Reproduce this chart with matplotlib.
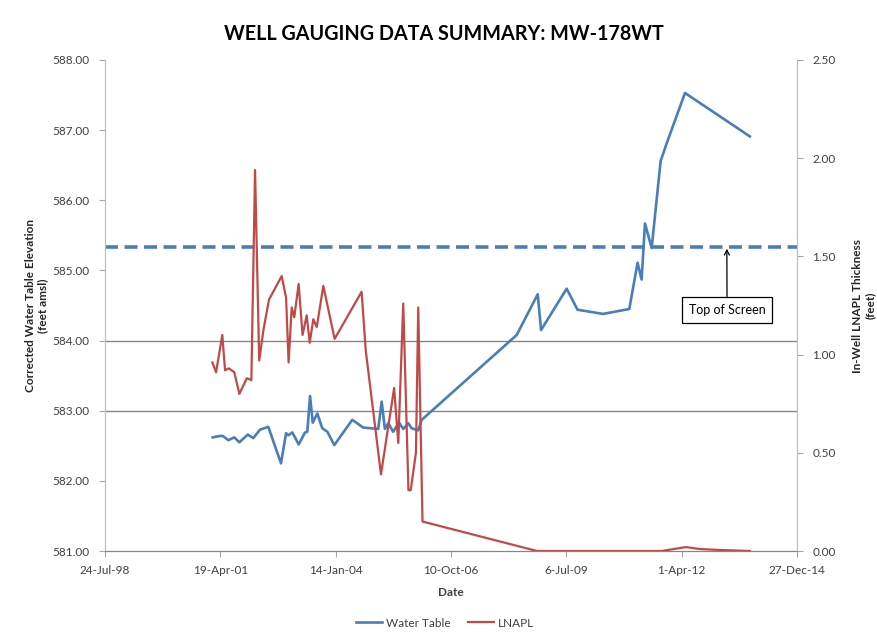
import numpy as np
import pandas as pd
import matplotlib
matplotlib.use("Agg")
import matplotlib.pyplot as plt
import matplotlib.dates as mdates

plt.rcParams["font.family"] = ["Lato", "DejaVu Sans"]

# =========================
# DATA
# =========================

wt_dates = [
    "2001-02-12", "2001-04-16", "2001-05-10", "2001-06-27", "2001-08-18", "2001-10-01",
    "2001-12-13", "2002-01-30", "2002-03-29", "2002-06-09", "2002-09-27", "2002-11-10",
    "2002-11-30", "2003-01-03", "2003-02-28", "2003-04-23", "2003-05-13", "2003-06-06",
    "2003-06-29", "2003-08-08", "2003-09-20", "2003-11-03", "2004-01-02", "2004-06-06",
    "2004-09-09", "2005-01-17", "2005-02-16", "2005-03-16", "2005-04-14", "2005-05-27",
    "2005-07-16", "2005-08-22", "2005-10-05", "2005-11-03", "2005-12-30", "2006-01-29",
    "2008-05-02", "2008-10-31", "2008-11-29", "2009-07-09", "2009-10-11", "2010-05-20",
    "2011-01-03", "2011-03-16", "2011-04-20", "2011-05-19", "2011-07-16", "2011-10-02",
    "2011-11-23", "2012-04-30", "2013-11-14",
]
wt_elev = [
    582.62, 582.64, 582.64, 582.58, 582.62, 582.55,
    582.66, 582.61, 582.73, 582.77, 582.25, 582.68,
    582.65, 582.69, 582.52, 582.69, 582.70, 583.21,
    582.83, 582.96, 582.75, 582.70, 582.51, 582.87,
    582.76, 582.74, 583.13, 582.74, 582.82, 582.70,
    582.83, 582.74, 582.82, 582.75, 582.72, 582.87,
    584.08, 584.66, 584.15, 584.74, 584.44, 584.38,
    584.45, 585.11, 584.87, 585.67, 585.32, 586.56,
    586.81, 587.53, 586.91,
]

lnapl_dates = [
    "2001-02-09", "2001-03-13", "2001-05-06", "2001-05-30", "2001-07-02", "2001-08-18",
    "2001-10-01", "2001-12-05", "2002-01-13", "2002-02-14", "2002-03-22", "2002-04-29",
    "2002-06-15", "2002-10-03", "2002-11-10", "2002-12-02", "2002-12-29", "2003-01-20",
    "2003-02-27", "2003-04-02", "2003-05-08", "2003-06-03", "2003-07-04", "2003-08-03",
    "2003-09-29", "2004-01-05", "2004-08-26", "2004-10-01", "2005-02-10", "2005-06-04",
    "2005-07-10", "2005-08-22", "2005-10-06", "2005-10-26", "2005-12-10", "2005-12-30",
    "2006-02-05", "2008-10-25", "2009-07-09", "2010-05-20", "2011-01-03", "2011-10-11",
    "2012-05-08", "2012-09-07", "2013-01-29", "2013-11-14",
]
lnapl_thk = [
    0.96, 0.91, 1.10, 0.92, 0.93, 0.91,
    0.80, 0.88, 0.87, 1.94, 0.97, 1.13,
    1.28, 1.40, 1.29, 0.96, 1.24, 1.19,
    1.36, 1.10, 1.20, 1.06, 1.18, 1.14,
    1.35, 1.08, 1.32, 1.02, 0.39, 0.83,
    0.55, 1.26, 0.31, 0.31, 0.50, 1.24,
    0.15, 0.00, 0.00, 0.00, 0.00, 0.00,
    0.02, 0.01, 0.006, 0.00,
]

top_of_screen = 585.33
ref_lines = [583.0, 584.0]
x_start, x_end = "1998-07-24", "2014-12-27"

BLUE = "#4A7EBB"
RED = "#BE4B48"
TXT = "#404040"

# =========================
# FIGURE
# =========================

fig = plt.figure(figsize=(8.78, 6.41), dpi=100)
ax = fig.add_axes([0.1196, 0.1404, 0.7881, 0.7660])
ax2 = ax.twinx()

wt_x = pd.to_datetime(wt_dates)
ln_x = pd.to_datetime(lnapl_dates)

for yv in ref_lines:
    ax.axhline(yv, color="#868686", lw=1.0, zorder=1)
ax.axhline(top_of_screen, color=BLUE, lw=2.6, ls=(0, (3.6, 1.8)), zorder=2)
wt_line, = ax.plot(wt_x, wt_elev, color=BLUE, lw=1.9, zorder=3, label="Water Table")
ln_line, = ax2.plot(ln_x, lnapl_thk, color=RED, lw=1.6, zorder=3, label="LNAPL")

ax.set_ylim(581, 588)
ax.set_yticks(np.arange(581, 588.01, 1.0))
ax.yaxis.set_major_formatter(plt.FormatStrFormatter("%.2f"))
ax2.set_ylim(0, 2.5)
ax2.set_yticks(np.arange(0, 2.51, 0.5))
ax2.yaxis.set_major_formatter(plt.FormatStrFormatter("%.2f"))

ticks = pd.date_range(x_start, periods=7, freq="1000D")
ax.set_xlim(pd.Timestamp(x_start), pd.Timestamp(x_end))
ax.set_xticks(ticks)
ax.xaxis.set_major_formatter(mdates.DateFormatter("%-d-%b-%y"))

for a in (ax, ax2):
    a.spines["top"].set_visible(False)
    a.spines["left"].set_color("#BFBFBF")
    a.spines["right"].set_color("#BFBFBF")
    a.spines["bottom"].set_color("#868686")
    a.tick_params(colors="#A6A6A6", labelcolor=TXT, labelsize=8.5, length=4, width=0.8)
ax.tick_params(axis="y", pad=7)
ax2.tick_params(axis="y", pad=7)
ax.tick_params(axis="x", pad=6)

ax.set_xlabel("Date", fontsize=8.5, fontweight="bold", color=TXT, labelpad=8)
ax.set_ylabel("Corrected Water Table Elevation\n(feet amsl)", fontsize=8.5,
              fontweight="bold", color="#262626", labelpad=3)
ax2.set_ylabel("In-Well LNAPL Thickness\n(feet)", fontsize=8.5, fontweight="bold",
               color="#262626", rotation=90, labelpad=12)

fig.suptitle("WELL GAUGING DATA SUMMARY: MW-178WT", x=0.506, y=0.962,
             fontsize=14.2, fontweight="bold", color="black")

ax.annotate("Top of Screen", xy=(pd.Timestamp("2013-04-28"), top_of_screen),
            xytext=(0.899, 0.491), textcoords="axes fraction", ha="center", va="center",
            fontsize=9, color="black",
            bbox=dict(boxstyle="square,pad=0.55", fc="white", ec="black", lw=0.9),
            arrowprops=dict(arrowstyle="->", color="black", lw=0.9, shrinkA=0, shrinkB=1),
            zorder=5)

fig.legend(handles=[wt_line, ln_line], loc="center", bbox_to_anchor=(0.507, 0.028),
           ncol=2, frameon=False, fontsize=8.5, handlelength=2.2, columnspacing=1.5,
           handletextpad=0.3, labelcolor=TXT)

fig.savefig("out.png", dpi=100)
